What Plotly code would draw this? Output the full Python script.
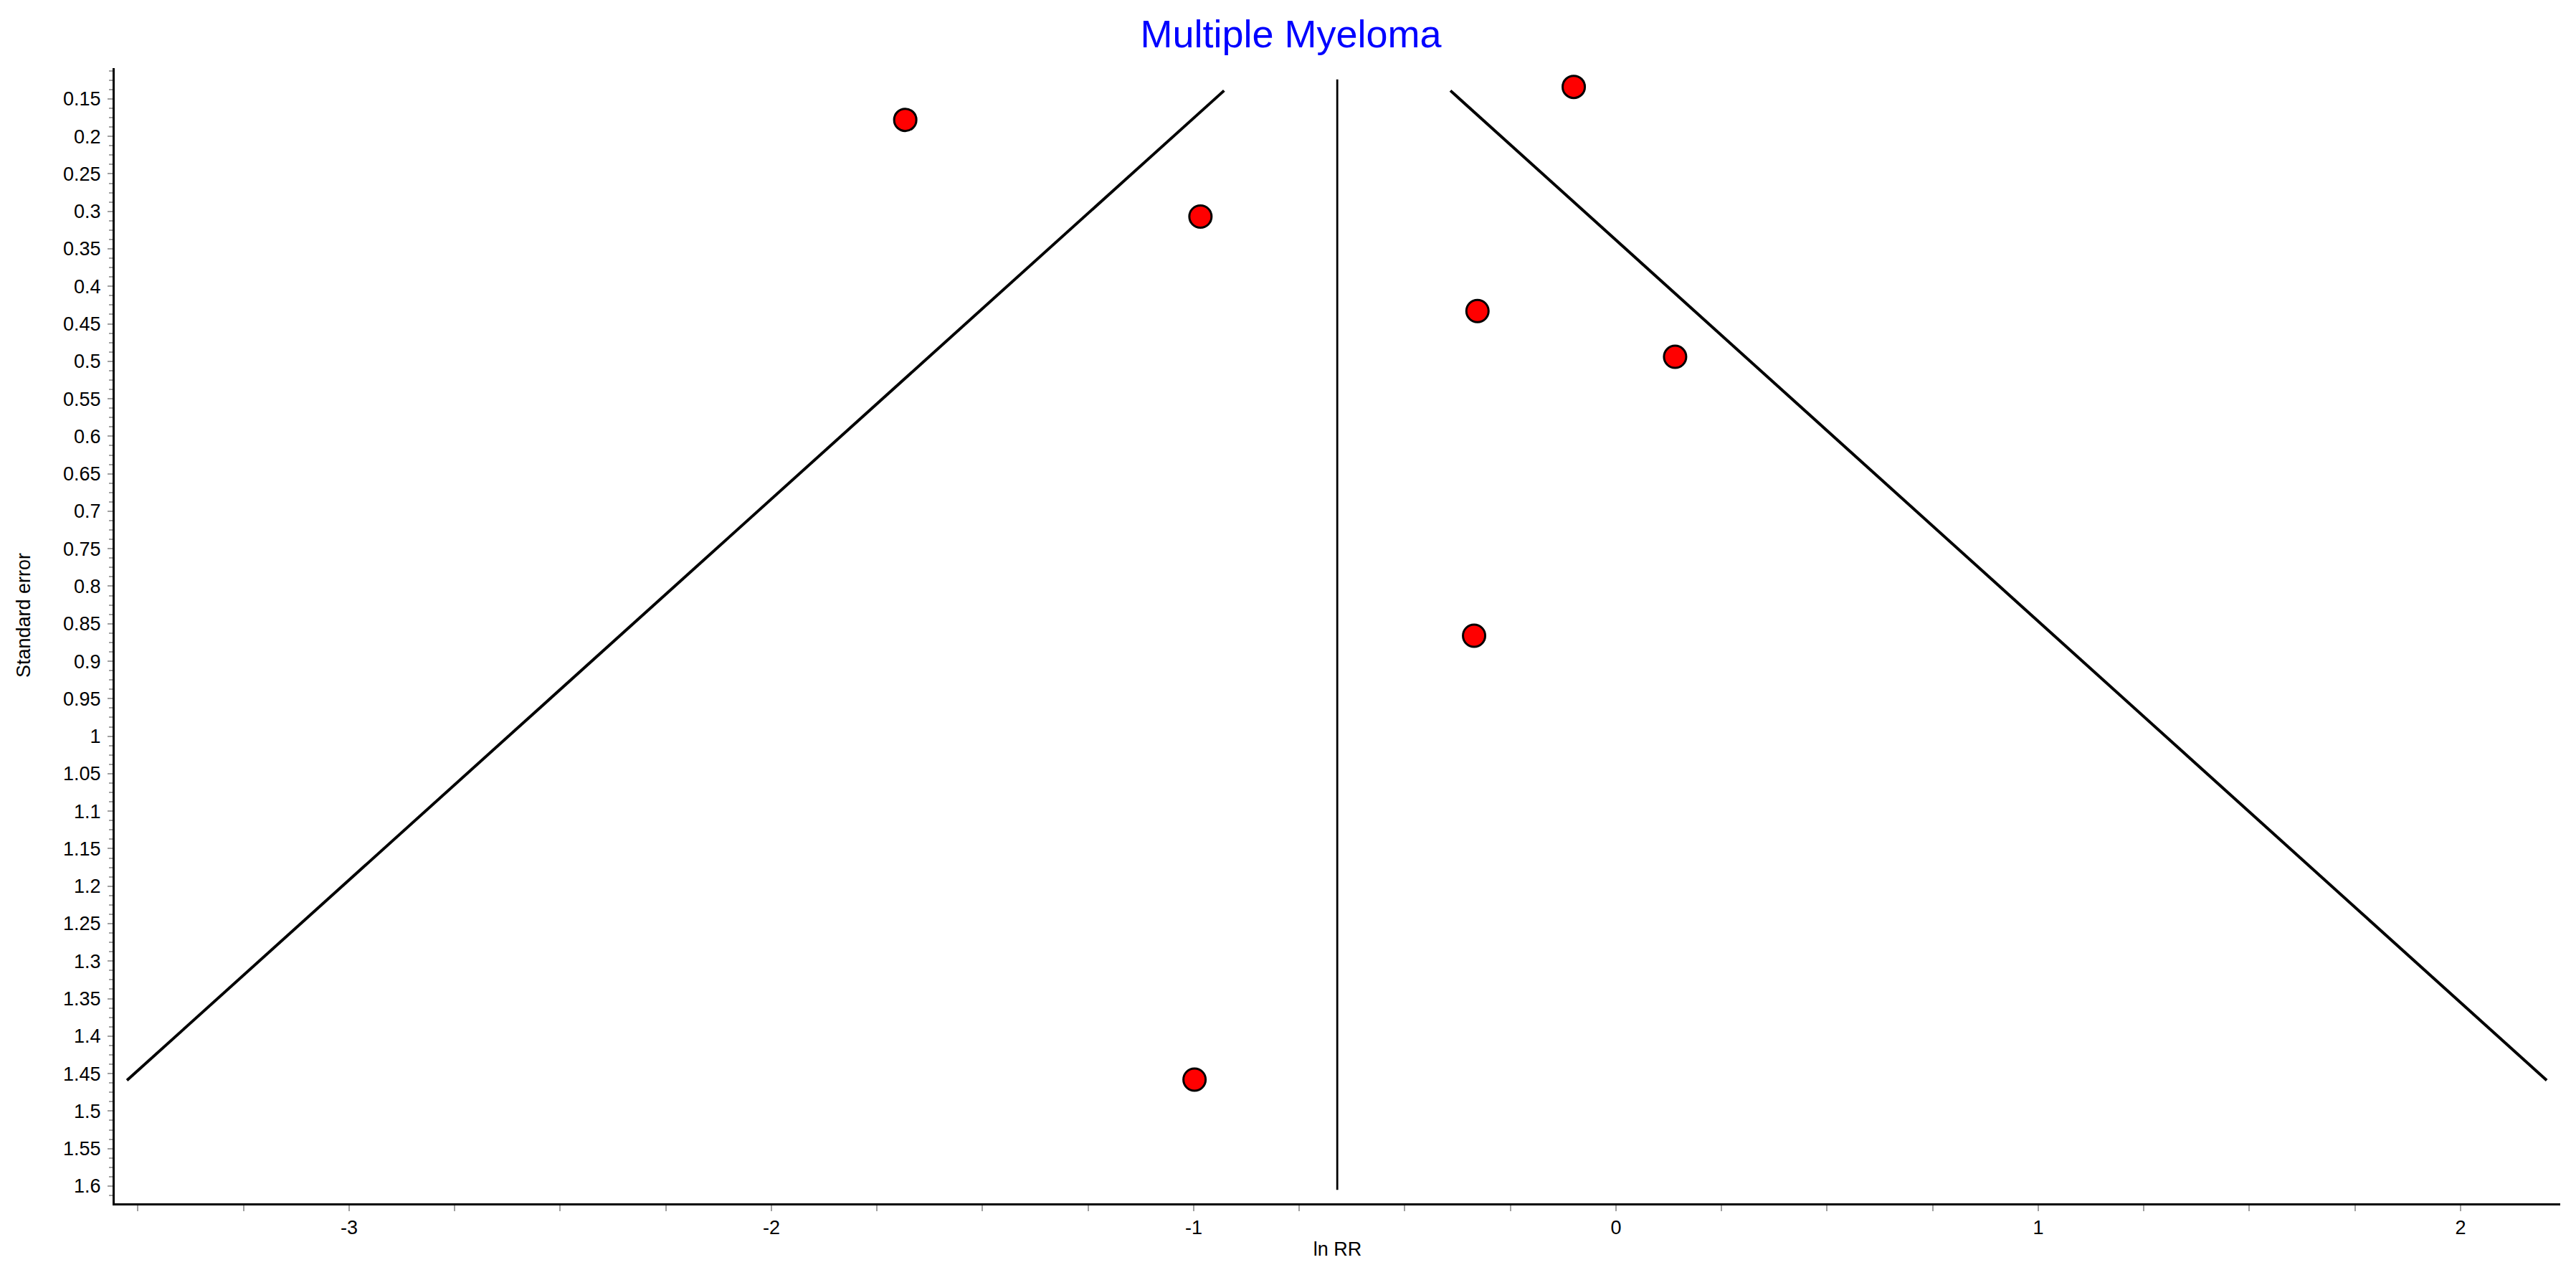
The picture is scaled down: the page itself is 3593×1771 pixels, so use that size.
"""Funnel plot: Multiple Myeloma (ln RR vs standard error)."""

import plotly.graph_objects as go

# study estimates
ln_rr = [-1.683, -0.100, -0.984, -0.328, 0.140, -0.336, -0.998]
std_err = [0.178, 0.134, 0.307, 0.433, 0.494, 0.866, 1.458]

# pooled estimate and pseudo-95% limits
pooled_x = [-0.660, -0.660]
pooled_se = [0.124, 1.605]
funnel_se = [0.139, 1.459]
funnel_left = [-0.928, -3.526]
funnel_right = [-0.392, 2.204]

x_tickvals = [-3, -2, -1, 0, 1, 2]
x_ticktext = ["-3", "-2", "-1", "0", "1", "2"]

FONT = "Arial, Liberation Sans, sans-serif"
PAGE = 8  # default body margin of the html page
W, H = 3593 - PAGE, 1771 - PAGE
L, R, T, B = 160 - PAGE, 22, 95 - PAGE, 93

fig = go.Figure()

fig.add_trace(go.Scatter(
    x=funnel_left, y=funnel_se, mode="lines",
    line=dict(color="black", width=4), showlegend=False, hoverinfo="skip",
))
fig.add_trace(go.Scatter(
    x=funnel_right, y=funnel_se, mode="lines",
    line=dict(color="black", width=4), showlegend=False, hoverinfo="skip",
))
fig.add_trace(go.Scatter(
    x=pooled_x, y=pooled_se, mode="lines",
    line=dict(color="black", width=2.8), showlegend=False, hoverinfo="skip",
))
fig.add_trace(go.Scatter(
    x=ln_rr, y=std_err, mode="markers",
    marker=dict(size=31, color="#ff0000", line=dict(color="black", width=3)),
    showlegend=False,
))

# y-axis title sits a little above the plot centre in the original
fig.add_annotation(
    text="Standard error", textangle=-90, showarrow=False,
    xref="paper", yref="paper",
    x=(33 - 160) / (W - L - R), y=(1678 - 858) / (H - T - B),
    xanchor="center", yanchor="middle",
    font=dict(family=FONT, size=27, color="black"),
)

fig.update_layout(
    width=W, height=H,
    paper_bgcolor="white", plot_bgcolor="white",
    margin=dict(l=L, r=R, t=T, b=B, autoexpand=False),
    font=dict(family=FONT, size=27, color="black"),
    title=dict(
        text="Multiple Myeloma", x=0.5, xref="container", xanchor="center",
        y=1 - (47 - PAGE) / H, yanchor="middle",
        font=dict(family=FONT, size=54, color="#0000ff"),
    ),
    xaxis=dict(
        range=[-3.555, 2.236], showgrid=False, zeroline=False,
        showline=True, linecolor="black", linewidth=3,
        ticks="outside", ticklen=8, tickwidth=2, tickcolor="#a0a0a0",
        tickmode="array", tickvals=x_tickvals, ticktext=x_ticktext,
        minor=dict(ticks="outside", dtick=0.25, tick0=0, ticklen=8,
                   tickwidth=2, tickcolor="#a0a0a0", showgrid=False),
        title=dict(text="ln RR", standoff=6, font=dict(size=27)),
        automargin=False,
    ),
    yaxis=dict(
        range=[1.623, 0.109], showgrid=False, zeroline=False,
        showline=True, linecolor="black", linewidth=3,
        ticks="outside", ticklen=7, tickwidth=2, tickcolor="#a0a0a0",
        tickmode="linear", tick0=0.15, dtick=0.05, tickformat="~g",
        ticklabelstandoff=4,
        minor=dict(ticks="outside", dtick=0.0125, tick0=0.15, ticklen=5,
                   tickwidth=2, tickcolor="#a0a0a0", showgrid=False),
        automargin=False,
    ),
)

fig.write_html("out.html")
